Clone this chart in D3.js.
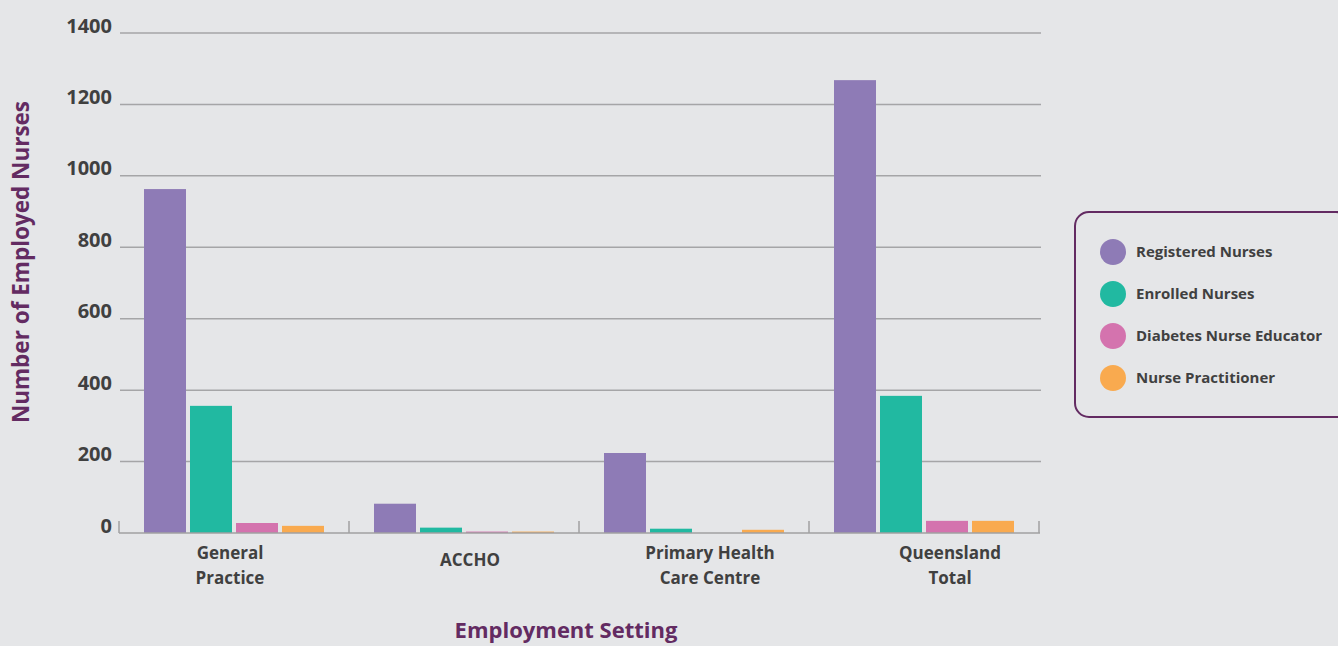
<!DOCTYPE html>
<html>
<head>
<meta charset="utf-8">
<script src="https://cdn.jsdelivr.net/npm/d3@7"></script>
<style>
  body { margin: 0; background: #e5e6e8; }
  svg { display: block; font-family: 'Open Sans', sans-serif; }
</style>
</head>
<body>
<div id="chart"></div>
<script>
let categories = ['General Practice', 'ACCHO', 'Primary Health Care Centre', 'Queensland Total']
let categoryLines = [['General', 'Practice'], ['ACCHO'], ['Primary Health', 'Care Centre'], ['Queensland', 'Total']]
let seriesNames = ['Registered Nurses', 'Enrolled Nurses', 'Diabetes Nurse Educator', 'Nurse Practitioner']
let registered = [963, 82, 224, 1268]
let enrolled = [356, 15, 12, 384]
let diabetes = [28, 4, 0, 34]
let practitioner = [20, 4, 9, 34]
let yTicks = [0, 200, 400, 600, 800, 1000, 1200, 1400]
let colors = ['#8e7bb6', '#21b9a1', '#d473ae', '#f9aa4f']

let seriesValues = [registered, enrolled, diabetes, practitioner]

let svg = d3.select('#chart')
    .append('svg')
    .attr('width', 1338)
    .attr('height', 646)

svg.append('rect')
    .attr('width', 1338)
    .attr('height', 646)
    .attr('fill', '#e5e6e8')

let xScale = d3.scaleBand()
    .domain(categories)
    .range([119, 1039])

// labels sit a little off the band centres in the original
let labelScale = d3.scalePoint()
    .domain(categories)
    .range([230, 950])

let innerScale = d3.scaleBand()
    .domain(seriesNames)
    .range([25, 205])
    .paddingInner(4 / 46)

let yScale = d3.scaleLinear()
    .domain([0, 1400])
    .range([533, 33])

// gridlines
svg.append('g')
    .selectAll('line')
    .data(yTicks.filter(d => d > 0))
    .enter()
    .append('line')
    .attr('x1', 120)
    .attr('x2', 1041)
    .attr('y1', d => yScale(d))
    .attr('y2', d => yScale(d))
    .attr('stroke', '#a5a5a7')
    .attr('stroke-width', 1.5)

// y tick labels
let yAxis = d3.axisLeft(yScale).tickValues(yTicks).tickFormat(d3.format('d')).tickSize(0).tickPadding(0)
let yg = svg.append('g')
    .attr('transform', 'translate(112,0)')
    .call(yAxis)
yg.select('.domain').remove()
yg.selectAll('text')
    .attr('dy', '-1')
    .attr('fill', '#404040')
    .style('font-size', '20px')
    .style('font-weight', 'bold')
    .style('font-family', "'Open Sans', sans-serif")

// bars
let groups = svg.selectAll('.group')
    .data(categories)
    .enter()
    .append('g')
    .attr('class', 'group')
    .attr('transform', d => `translate(${xScale(d)},0)`)

groups.selectAll('rect')
    .data((d, i) => seriesNames.map((s, j) => ({ s: s, v: seriesValues[j][i], c: colors[j] })))
    .enter()
    .append('rect')
    .attr('x', d => innerScale(d.s))
    .attr('width', innerScale.bandwidth())
    .attr('y', d => yScale(d.v))
    .attr('height', d => yScale(0) - yScale(d.v))
    .attr('fill', d => d.c)

// baseline with tick marks at band edges
svg.append('line')
    .attr('x1', 119)
    .attr('x2', 1040)
    .attr('y1', yScale(0))
    .attr('y2', yScale(0))
    .attr('stroke', '#a0a0a2')
    .attr('stroke-width', 1.5)

let edges = categories.map(d => xScale(d)).concat([xScale.range()[1]])
svg.append('g')
    .selectAll('line')
    .data(edges)
    .enter()
    .append('line')
    .attr('x1', d => d)
    .attr('x2', d => d)
    .attr('y1', yScale(0))
    .attr('y2', yScale(0) - 12)
    .attr('stroke', '#a0a0a2')
    .attr('stroke-width', 1.5)

// category labels
let catText = svg.selectAll('.cat')
    .data(categoryLines)
    .enter()
    .append('text')
    .attr('class', 'cat')
    .attr('text-anchor', 'middle')
    .attr('fill', '#404040')
    .style('font-size', '17px')
    .style('font-weight', 'bold')
    .attr('x', (d, i) => labelScale(categories[i]))
    .attr('y', d => d.length == 1 ? 566 : 559)

catText.selectAll('tspan')
    .data(d => d)
    .enter()
    .append('tspan')
    .attr('x', function () { return d3.select(this.parentNode).attr('x') })
    .attr('dy', (d, i) => i == 0 ? 0 : 25)
    .text(d => d)

// axis titles
svg.append('text')
    .attr('x', 566)
    .attr('y', 638)
    .attr('text-anchor', 'middle')
    .attr('fill', '#632b62')
    .style('font-size', '22px')
    .style('font-weight', 'bold')
    .text('Employment Setting')

svg.append('text')
    .attr('transform', 'translate(29,262) rotate(-90)')
    .attr('text-anchor', 'middle')
    .attr('fill', '#632b62')
    .style('font-size', '22.5px')
    .style('font-weight', 'bold')
    .text('Number of Employed Nurses')

// legend
let legend = svg.append('g')
svg.append('rect')
    .attr('x', 1075)
    .attr('y', 212)
    .attr('width', 275)
    .attr('height', 205)
    .attr('rx', 14)
    .attr('fill', 'none')
    .attr('stroke', '#632b62')
    .attr('stroke-width', 2)

let items = legend.selectAll('.item')
    .data(seriesNames)
    .enter()
    .append('g')
    .attr('class', 'item')
    .attr('transform', (d, i) => `translate(1113,${252 + i * 42})`)

items.append('circle')
    .attr('r', 13)
    .attr('fill', (d, i) => colors[i])

items.append('text')
    .attr('x', 23)
    .attr('dy', '0.35em')
    .attr('fill', '#404040')
    .style('font-size', '15px')
    .style('font-weight', 'bold')
    .text(d => d)
</script>
</body>
</html>
